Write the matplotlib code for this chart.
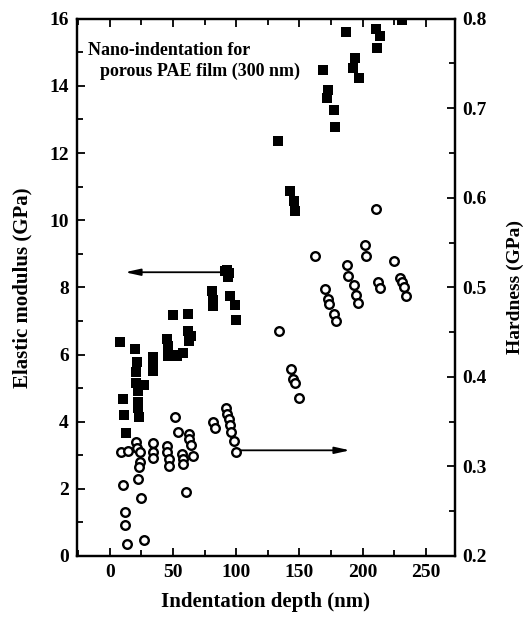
import matplotlib
matplotlib.use("Agg")
import matplotlib.pyplot as plt
from matplotlib.ticker import MultipleLocator

# Elastic modulus data (filled squares)
mod_depth = [7.9, 10, 11, 12.4, 20, 21.6, 20.6, 20.5, 27, 22, 22, 22.5, 23,
             34, 34, 34, 45, 46, 46, 50, 53, 50, 62, 58, 62, 64, 63,
             82, 80.6, 82, 91, 92.5, 93.5, 94, 95, 99, 100,
             133.4, 142.6, 145.5, 146.6, 169, 173, 171.7, 177, 178.3,
             186.7, 194, 192.8, 196.8, 210.8, 214, 211.3, 231]
mod_gpa = [6.36, 4.68, 4.2, 3.66, 6.16, 5.79, 5.49, 5.15, 5.1, 4.9, 4.6, 4.4, 4.15,
           5.94, 5.7, 5.5, 6.46, 6.25, 5.95, 6.0, 5.95, 7.18, 7.2, 6.04, 6.7, 6.55, 6.4,
           7.43, 7.88, 7.63, 8.5, 8.52, 8.32, 8.42, 7.73, 7.48, 7.03,
           12.37, 10.86, 10.56, 10.26, 14.48, 13.89, 13.64, 13.29, 12.79,
           15.6, 14.83, 14.53, 14.23, 15.7, 15.48, 15.13, 15.97]

# Hardness data (open circles)
hard_depth = [8.5, 10.6, 11.9, 11.9, 13.7, 14.5, 21, 21.7, 23.8, 23.8, 23.2, 22.4, 24.3, 26.9,
              34.3, 34.5, 34.5, 44.9, 45.5, 47, 47, 51.5, 54, 57, 58, 58, 60,
              63, 63, 64.5, 65.5, 82, 83, 92, 92.5, 94, 95, 96, 98, 100,
              134, 143.2, 145.3, 146.5, 149.8, 162.4, 170.4, 172.5, 173.8, 177, 179,
              187.5, 188.5, 193, 195, 196.7, 202, 202.5, 210.8, 212, 214,
              225, 230, 231.5, 233, 234.5]
hard_gpa = [0.3165, 0.279, 0.2495, 0.2346, 0.2134, 0.3177, 0.327, 0.321, 0.316, 0.305, 0.299, 0.286, 0.2645, 0.218,
            0.326, 0.3165, 0.309, 0.323, 0.316, 0.308, 0.301, 0.355, 0.338, 0.314, 0.308, 0.303, 0.272,
            0.336, 0.331, 0.324, 0.312, 0.35, 0.343, 0.365, 0.359, 0.353, 0.346, 0.339, 0.328, 0.3165,
            0.451, 0.409, 0.398, 0.393, 0.376, 0.5355, 0.498, 0.4875, 0.4815, 0.47, 0.462,
            0.525, 0.5125, 0.503, 0.492, 0.483, 0.5475, 0.5355, 0.5877, 0.5065, 0.499,
            0.529, 0.51, 0.506, 0.5, 0.49]

plt.rcParams['font.family'] = ['Liberation Serif', 'DejaVu Serif']
plt.rcParams['font.weight'] = 'bold'

fig = plt.figure(figsize=(5.24, 6.24), dpi=100)
ax = fig.add_axes([0.147, 0.109, 0.721, 0.861])
ax2 = ax.twinx()

ax.plot(mod_depth, mod_gpa, linestyle='none', marker='s', markersize=7.3,
        color='black', markeredgewidth=0, zorder=3)
ax2.plot(hard_depth, hard_gpa, linestyle='none', marker='o', markersize=6.2,
         markerfacecolor='white', markeredgecolor='black', markeredgewidth=1.7, zorder=3)

ax.set_xlim(-26, 273)
ax.set_ylim(0, 16)
ax2.set_ylim(0.2, 0.8)

ax.xaxis.set_major_locator(MultipleLocator(50))
ax.xaxis.set_minor_locator(MultipleLocator(25))
ax.yaxis.set_major_locator(MultipleLocator(2))
ax.yaxis.set_minor_locator(MultipleLocator(1))
ax2.yaxis.set_major_locator(MultipleLocator(0.1))
ax2.yaxis.set_minor_locator(MultipleLocator(0.05))

for a in (ax, ax2):
    for s in a.spines.values():
        s.set_linewidth(1.6)
ax.tick_params(axis='both', which='both', direction='in', width=1.3, labelsize=14, pad=6)
ax.tick_params(axis='x', which='both', top=True)
ax.tick_params(which='major', length=6)
ax.tick_params(which='minor', length=4)
ax.tick_params(axis='y', right=False)
ax2.tick_params(axis='y', which='both', direction='in', width=1.3, labelsize=14, pad=5)
ax2.tick_params(which='major', length=6)
ax2.tick_params(which='minor', length=4)

ax2.set_yticklabels([f"{v:.1f}" for v in ax2.get_yticks()])

for lbl in ax.get_xticklabels() + ax.get_yticklabels() + ax2.get_yticklabels():
    lbl.set_fontweight('bold')

ax.set_xlabel('Indentation depth (nm)', fontsize=15, fontweight='bold', labelpad=8)
ax.set_ylabel('Elastic modulus (GPa)', fontsize=15, fontweight='bold', labelpad=12)
ax2.set_ylabel('Hardness (GPa)', fontsize=14, fontweight='bold', labelpad=15)

ax.text(-17, 15.05, 'Nano-indentation for', fontsize=13, fontweight='bold', ha='left', va='center')
ax.text(-8, 14.42, 'porous PAE film (300 nm)', fontsize=13, fontweight='bold', ha='left', va='center')

ax.annotate('', xy=(12, 8.45), xytext=(91, 8.45),
            arrowprops=dict(arrowstyle='-|>,head_length=0.9,head_width=0.2',
                            color='black', lw=1.3, shrinkA=0, shrinkB=0), zorder=2)
ax2.annotate('', xy=(190, 0.318), xytext=(101, 0.318),
             arrowprops=dict(arrowstyle='-|>,head_length=0.9,head_width=0.2',
                             color='black', lw=1.3, shrinkA=0, shrinkB=0), zorder=2)

fig.savefig('out.png', dpi=100)
